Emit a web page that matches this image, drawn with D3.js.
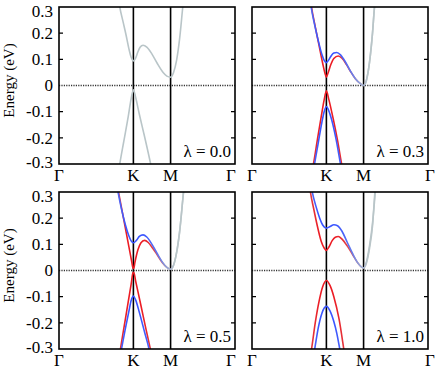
<!DOCTYPE html>
<html>
<head>
<meta charset="utf-8">
<script src="https://cdn.jsdelivr.net/npm/d3@7"></script>
<style>
  body { margin: 0; background: #fff; }
  svg { display: block; }
  text { font-family: "Liberation Serif", "Times New Roman", Times, "DejaVu Serif", serif; }
</style>
</head>
<body>
<svg id="chart" width="436" height="373"></svg>
<script>
// path through the zone, in units of |ΓK|
const kPoints = [0, 1, 1.5, 2.366];
const kLabels = ["Γ", "K", "M", "Γ"];
const energyTicks = [-0.3, -0.2, -0.1, 0, 0.1, 0.2, 0.3];
const lambdaLabels = ["λ = 0.0", "λ = 0.3", "λ = 0.5", "λ = 1.0"];

// λ = 0.0 (degenerate, grey)
const grey00Cond = [[0.80,0.33],[0.817,0.30],[0.86,0.245],[0.90,0.195],[0.94,0.14],[0.97,0.108],[1.0,0.094],[1.03,0.105],[1.06,0.128],[1.09,0.146],[1.13,0.154],[1.18,0.147],[1.25,0.12],[1.32,0.085],[1.40,0.05],[1.45,0.036],[1.5,0.032],[1.54,0.05],[1.58,0.095],[1.62,0.175],[1.664,0.30],[1.675,0.33]];
const grey00Val = [[0.80,-0.33],[0.817,-0.30],[0.87,-0.215],[0.93,-0.12],[0.97,-0.05],[1.0,-0.016],[1.03,-0.045],[1.08,-0.11],[1.15,-0.195],[1.232,-0.30],[1.25,-0.325]];

// λ = 0.3
const blue03Cond = [[0.78,0.33],[0.795,0.30],[0.84,0.235],[0.89,0.172],[0.94,0.118],[0.97,0.096],[1.0,0.0875],[1.03,0.097],[1.07,0.116],[1.10,0.124],[1.14,0.126],[1.19,0.117],[1.26,0.088],[1.33,0.052],[1.39,0.026],[1.45,0.009],[1.5,0.0],[1.54,0.022],[1.58,0.089],[1.62,0.2],[1.647,0.30],[1.66,0.33]];
const red03Cond = [[0.785,0.33],[0.80,0.30],[0.85,0.225],[0.90,0.155],[0.95,0.085],[0.98,0.048],[1.0,0.032],[1.02,0.046],[1.06,0.08],[1.10,0.103],[1.16,0.113],[1.21,0.104],[1.27,0.08],[1.33,0.051],[1.39,0.026],[1.45,0.009],[1.5,0.0],[1.54,0.022],[1.58,0.089],[1.62,0.2],[1.647,0.30],[1.66,0.33]];
const blue03Val = [[0.82,-0.33],[0.84,-0.30],[0.89,-0.22],[0.94,-0.14],[0.97,-0.1],[1.0,-0.08],[1.03,-0.095],[1.07,-0.13],[1.13,-0.205],[1.19,-0.30],[1.21,-0.33]];
const red03Val = [[0.805,-0.33],[0.826,-0.30],[0.88,-0.205],[0.93,-0.12],[0.97,-0.055],[1.0,-0.02],[1.03,-0.05],[1.09,-0.125],[1.15,-0.21],[1.205,-0.30],[1.225,-0.33]];

// λ = 0.5
const blue05Cond = [[0.775,0.33],[0.794,0.30],[0.84,0.235],[0.89,0.177],[0.94,0.132],[0.97,0.113],[1.0,0.106],[1.04,0.115],[1.08,0.13],[1.13,0.136],[1.18,0.128],[1.25,0.1],[1.32,0.065],[1.39,0.032],[1.45,0.012],[1.5,0.005],[1.54,0.02],[1.58,0.067],[1.62,0.145],[1.674,0.30],[1.685,0.33]];
const red05Cond = [[0.78,0.33],[0.80,0.30],[0.87,0.195],[0.94,0.09],[0.98,0.03],[0.995,0.008],[1.005,0.008],[1.02,0.03],[1.06,0.078],[1.10,0.105],[1.15,0.115],[1.2,0.107],[1.26,0.085],[1.32,0.06],[1.39,0.03],[1.45,0.012],[1.5,0.005],[1.54,0.02],[1.58,0.067],[1.62,0.145],[1.674,0.30],[1.685,0.33]];
const blue05Val = [[0.82,-0.33],[0.84,-0.30],[0.89,-0.225],[0.94,-0.155],[0.97,-0.115],[1.0,-0.098],[1.03,-0.112],[1.08,-0.16],[1.15,-0.235],[1.21,-0.30],[1.23,-0.33]];
const red05Val = [[0.81,-0.33],[0.826,-0.30],[0.9,-0.172],[0.97,-0.052],[0.995,-0.008],[1.005,-0.007],[1.03,-0.04],[1.1,-0.132],[1.17,-0.225],[1.228,-0.30],[1.25,-0.33]];

// λ = 1.0
const blue10Cond = [[0.79,0.33],[0.81,0.30],[0.86,0.245],[0.91,0.2],[0.95,0.174],[1.0,0.162],[1.05,0.168],[1.1,0.175],[1.15,0.171],[1.21,0.15],[1.28,0.108],[1.35,0.066],[1.42,0.03],[1.47,0.014],[1.5,0.01],[1.54,0.035],[1.58,0.095],[1.62,0.18],[1.657,0.30],[1.665,0.33]];
const red10Cond = [[0.77,0.33],[0.785,0.30],[0.83,0.235],[0.88,0.168],[0.93,0.112],[0.97,0.086],[1.0,0.077],[1.03,0.088],[1.08,0.115],[1.12,0.127],[1.16,0.13],[1.21,0.12],[1.28,0.094],[1.35,0.062],[1.42,0.03],[1.47,0.014],[1.5,0.01],[1.54,0.03],[1.58,0.085],[1.62,0.17],[1.652,0.30],[1.66,0.33]];
const blue10Val = [[0.825,-0.33],[0.843,-0.30],[0.89,-0.22],[0.94,-0.163],[1.0,-0.137],[1.05,-0.155],[1.1,-0.195],[1.14,-0.24],[1.18,-0.30],[1.2,-0.33]];
const red10Val = [[0.78,-0.33],[0.80,-0.30],[0.85,-0.2],[0.9,-0.12],[0.95,-0.062],[1.0,-0.038],[1.05,-0.058],[1.1,-0.1],[1.17,-0.185],[1.234,-0.30],[1.25,-0.33]];

const panels = [
  {col: 0, row: 0, label: lambdaLabels[0], bands: [["grey", grey00Cond], ["grey", grey00Val]]},
  {col: 1, row: 0, label: lambdaLabels[1], bands: [["red", red03Cond], ["blue", blue03Cond], ["red", red03Val], ["blue", blue03Val]]},
  {col: 0, row: 1, label: lambdaLabels[2], bands: [["red", red05Cond], ["blue", blue05Cond], ["red", red05Val], ["blue", blue05Val]]},
  {col: 1, row: 1, label: lambdaLabels[3], bands: [["red", red10Cond], ["blue", blue10Cond], ["red", red10Val], ["blue", blue10Val]]}
];

const frameLeft = [59, 252], frameTop = [7, 192];
const W = 176, H = 157;
const colors = {grey: "#b9c5c8", red: "#ec1c24", blue: "#3a55ff"};

let svg = d3.select("#chart");
let defs = svg.append("defs");

panels.forEach((p, pi) => {
  let left = frameLeft[p.col], top = frameTop[p.row];
  let x = d3.scaleLinear([0, kPoints[3]], [left, left + W]);
  let y = d3.scaleLinear([-0.3, 0.3], [top + H, top]);
  let g = svg.append("g");

  defs.append("clipPath").attr("id", "clip" + pi)
    .append("rect").attr("x", left).attr("y", top).attr("width", W).attr("height", H);

  // colour fades to grey away from K (mostly towards M)
  ["red", "blue"].forEach(c => {
    let mix = d3.interpolateRgb(colors[c], colors.grey);
    let grad = defs.append("linearGradient").attr("id", c + pi)
      .attr("gradientUnits", "userSpaceOnUse")
      .attr("x1", x(0.75)).attr("x2", x(1.75)).attr("y1", 0).attr("y2", 0);
    [[0.75, 0.25], [0.9, 0], [1.1, 0], [1.22, 0.12], [1.35, 0.35], [1.48, 0.8], [1.55, 1], [1.75, 1]]
      .forEach(([k, m]) => grad.append("stop")
        .attr("offset", (k - 0.75) / 1.0)
        .attr("stop-color", mix(m)));
  });

  // zero line
  g.append("line")
    .attr("x1", left).attr("x2", left + W)
    .attr("y1", y(0)).attr("y2", y(0))
    .attr("stroke", "#333").attr("stroke-width", 1.3)
    .attr("stroke-dasharray", "1.2,1.2");

  // K and M lines
  g.selectAll("line.sym")
    .data(kPoints.slice(1, 3))
    .join("line")
    .attr("class", "sym")
    .attr("x1", d => x(d)).attr("x2", d => x(d))
    .attr("y1", top).attr("y2", top + H)
    .attr("stroke", "#000").attr("stroke-width", 1.6);

  let line = d3.line()
    .x(d => x(d[0]))
    .y(d => y(d[1]))
    .curve(d3.curveMonotoneX);

  g.append("g")
    .attr("clip-path", `url(#clip${pi})`)
    .selectAll("path")
    .data(p.bands)
    .join("path")
    .attr("fill", "none")
    .attr("stroke", d => d[0] === "grey" ? colors.grey : `url(#${d[0]}${pi})`)
    .attr("stroke-width", 1.6)
    .attr("d", d => line(d[1]));

  // frame
  g.append("rect")
    .attr("x", left).attr("y", top).attr("width", W).attr("height", H)
    .attr("fill", "none").attr("stroke", "#000").attr("stroke-width", 1.6);

  // inward ticks on both sides
  let inner = energyTicks.filter(d => Math.abs(d) < 0.25 && d !== 0);
  g.selectAll("path.tick")
    .data(inner)
    .join("path")
    .attr("class", "tick")
    .attr("d", d => `M${left},${y(d)}h4M${left + W},${y(d)}h-4`)
    .attr("stroke", "#000").attr("stroke-width", 1.3);

  // energy labels on the left column
  if (p.col === 0) {
    g.selectAll("text.ytick")
      .data(energyTicks)
      .join("text")
      .attr("class", "ytick")
      .attr("x", left - 6)
      .attr("y", d => y(d) + (d === 0.3 ? 4 : d === -0.3 ? -2 : 0))
      .attr("dy", "0.34em")
      .attr("text-anchor", "end")
      .attr("font-size", 17)
      .text(d => d === 0 ? "0" : d3.format(".1f")(d).replace("−", "-"));

    g.append("text")
      .attr("transform", `translate(14,${top + H / 2 - 5}) rotate(-90)`)
      .attr("text-anchor", "middle")
      .attr("font-size", 15)
      .text("Energy (eV)");
  }

  // k labels
  g.selectAll("text.xtick")
    .data(kPoints)
    .join("text")
    .attr("class", "xtick")
    .attr("x", (d, i) => x(d) + (i === 3 ? (p.col === 0 ? -4 : 2) : 0))
    .attr("y", top + H + 17)
    .attr("text-anchor", "middle")
    .attr("font-size", 17)
    .text((d, i) => kLabels[i]);

  g.append("text")
    .attr("x", left + W - 4)
    .attr("y", top + H - 7)
    .attr("text-anchor", "end")
    .attr("font-size", 17)
    .text(p.label);
});
</script>
</body>
</html>
